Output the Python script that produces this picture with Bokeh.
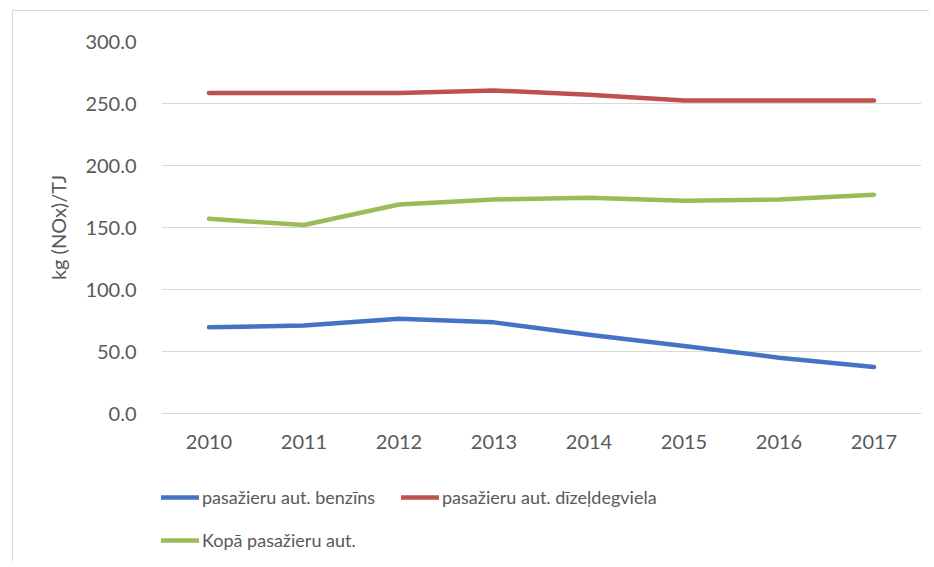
from bokeh.plotting import figure
from bokeh.layouts import column
from bokeh.models import Legend, LegendItem, FixedTicker, NumeralTickFormatter
from bokeh.embed import file_html
from bokeh.resources import INLINE

years = ["2010", "2011", "2012", "2013", "2014", "2015", "2016", "2017"]
benzins = [69.5, 71.0, 76.5, 73.5, 63.5, 54.5, 45.0, 37.5]
dizelis = [258.5, 258.5, 258.5, 260.5, 257.0, 252.5, 252.5, 252.5]
kopa = [157.0, 152.0, 168.5, 172.5, 174.0, 171.5, 172.5, 176.5]
series_names = ["pasažieru aut. benzīns", "pasažieru aut. dīzeļdegviela", "Kopā pasažieru aut."]
colors = ["#4472C4", "#C0504D", "#9BBB59"]
y_ticks = [0, 50, 100, 150, 200, 250, 300]

FONT = "Lato"
TXT = "#595959"

p = figure(x_range=years, y_range=(0, 300), width=916, height=460,
           output_backend="svg", toolbar_location=None,
           min_border_left=148, min_border_right=8, min_border_top=30, min_border_bottom=58)
p.outline_line_color = None
p.background_fill_color = "white"
p.border_fill_color = "white"

p.xgrid.grid_line_color = None
p.ygrid.grid_line_color = "#d9d9d9"
p.ygrid.grid_line_width = 1
p.yaxis.ticker = FixedTicker(ticks=y_ticks)
p.yaxis.formatter = NumeralTickFormatter(format="0.0")

for ax in (p.xaxis, p.yaxis):
    ax.major_tick_line_color = None
    ax.minor_tick_line_color = None
    ax.major_label_text_font = FONT
    ax.major_label_text_font_size = "20px"
    ax.major_label_text_color = TXT
p.yaxis.axis_line_color = None
p.xaxis.axis_line_color = "#d9d9d9"
p.yaxis.major_label_standoff = 19
p.xaxis.major_label_standoff = 15
p.yaxis.axis_label = "kg (NOx)/TJ"
p.yaxis.axis_label_text_font = FONT
p.yaxis.axis_label_text_font_size = "20px"
p.yaxis.axis_label_text_font_style = "normal"
p.yaxis.axis_label_text_color = TXT
p.yaxis.axis_label_standoff = 12

r1 = p.line(years, benzins, line_color=colors[0], line_width=4.5, line_cap="round", line_join="round")
r2 = p.line(years, dizelis, line_color=colors[1], line_width=4.5, line_cap="round", line_join="round")
r3 = p.line(years, kopa, line_color=colors[2], line_width=4.5, line_cap="round", line_join="round")

# legend lives in its own strip below the chart (frames are aligned by the column)
lg = figure(width=916, height=90, x_range=(0, 1), y_range=(0, 1),
            output_backend="svg", toolbar_location=None,
            x_axis_location=None, y_axis_location=None,
            min_border_left=0, min_border_right=0, min_border_top=0, min_border_bottom=0)
lg.outline_line_color = None
lg.grid.grid_line_color = None
lg.background_fill_color = "white"
lg.border_fill_color = "white"
dummy_x = [-5, -4]
dummy_y = [-5, -5]
l1 = lg.line(dummy_x, dummy_y, line_color=colors[0], line_width=4.5, line_cap="round")
l2 = lg.line(dummy_x, dummy_y, line_color=colors[1], line_width=4.5, line_cap="round")
l3 = lg.line(dummy_x, dummy_y, line_color=colors[2], line_width=4.5, line_cap="round")

# column-major fill: col 1 = benzins, kopa; col 2 = dizelis
legend = Legend(items=[LegendItem(label=series_names[0], renderers=[l1]),
                       LegendItem(label=series_names[2], renderers=[l3]),
                       LegendItem(label=series_names[1], renderers=[l2])],
                ncols=2, location=(0, 10), margin=0, padding=3,
                spacing=21, glyph_width=38, glyph_height=22, label_standoff=3,
                label_width=178,
                label_text_font=FONT, label_text_font_size="18px", label_text_color=TXT,
                border_line_color=None, background_fill_alpha=0)
lg.add_layout(legend, "center")

layout = column(p, lg, spacing=0, margin=(10, 0, 0, 12))
layout.styles = {"border-top": "1px solid #d9d9d9", "border-left": "1px solid #d9d9d9"}

open("out.html", "w").write(file_html(layout, INLINE))
